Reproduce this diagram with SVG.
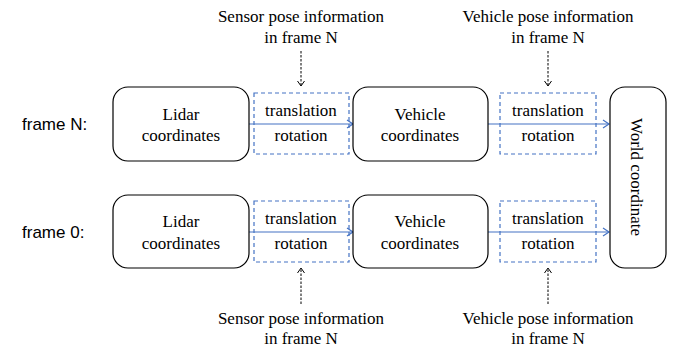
<svg xmlns="http://www.w3.org/2000/svg" width="675" height="347" viewBox="0 0 675 347">
<style>
.node{fill:#fff;stroke:#000;stroke-width:1.2}
.tf{fill:none;stroke:#4472c4;stroke-width:1.2;stroke-dasharray:4 3}
.t{font-family:'Liberation Serif','Times New Roman','DejaVu Serif',serif;font-size:17px;fill:#000;text-anchor:middle}
.lab{font-family:'Liberation Sans',Arial,sans-serif;font-size:17px;fill:#000}
.flow{stroke:#4472c4;stroke-width:1.2;fill:none;marker-end:url(#ab)}
.info{stroke:#000;stroke-width:1;stroke-dasharray:2.5 1.5;fill:none;marker-end:url(#ak)}
</style>
<defs>
<marker id="ab" markerWidth="10" markerHeight="10" refX="8" refY="5" orient="auto" markerUnits="userSpaceOnUse"><path d="M2,1 L8,5 L2,9" fill="none" stroke="#4472c4" stroke-width="1.2"/></marker>
<marker id="ak" markerWidth="10" markerHeight="10" refX="8" refY="5" orient="auto" markerUnits="userSpaceOnUse"><path d="M3,1.5 L8,5 L3,8.5" fill="none" stroke="#000" stroke-width="1"/></marker>
</defs>
<text class="lab" x="22" y="130">frame N:</text>
<text class="lab" x="22" y="238">frame 0:</text>
<g id="connectors">
<line class="flow" x1="249" y1="124" x2="353" y2="124"/>
<line class="flow" x1="488" y1="124" x2="609" y2="124"/>
<line class="flow" x1="249" y1="232" x2="353" y2="232"/>
<line class="flow" x1="488" y1="232" x2="609" y2="232"/>
<line class="info" x1="301" y1="51" x2="301" y2="86"/>
<line class="info" x1="548" y1="51" x2="548" y2="86"/>
<line class="info" x1="301" y1="304" x2="301" y2="268"/>
<line class="info" x1="548" y1="304" x2="548" y2="268"/>
</g>
<g font-family="Liberation Serif, serif">
<g id="lidarN"><rect class="node" x="113" y="87" width="136" height="74" rx="15"/><text class="t" x="181" y="120">Lidar</text><text class="t" x="181" y="141">coordinates</text></g>
<g id="tfN1"><rect class="tf" x="254" y="93" width="95" height="61"/><text class="t" x="301" y="116">translation</text><text class="t" x="301" y="141">rotation</text></g>
<g id="vehN"><rect class="node" x="353" y="87" width="135" height="74" rx="15"/><text class="t" x="420" y="120">Vehicle</text><text class="t" x="420" y="141">coordinates</text></g>
<g id="tfN2"><rect class="tf" x="500" y="93" width="96" height="61"/><text class="t" x="548" y="116">translation</text><text class="t" x="548" y="141">rotation</text></g>
<g id="lidar0"><rect class="node" x="113" y="195" width="136" height="73" rx="15"/><text class="t" x="181" y="227">Lidar</text><text class="t" x="181" y="249">coordinates</text></g>
<g id="tf01"><rect class="tf" x="254" y="201" width="95" height="61"/><text class="t" x="301" y="224">translation</text><text class="t" x="301" y="249">rotation</text></g>
<g id="veh0"><rect class="node" x="353" y="195" width="135" height="73" rx="15"/><text class="t" x="420" y="227">Vehicle</text><text class="t" x="420" y="249">coordinates</text></g>
<g id="tf02"><rect class="tf" x="500" y="201" width="96" height="61"/><text class="t" x="548" y="224">translation</text><text class="t" x="548" y="249">rotation</text></g>
<g id="world"><rect class="node" x="610" y="87" width="56" height="181" rx="15"/><text class="t" transform="translate(631,177) rotate(90)" x="0" y="0">World coordinate</text></g>
<g id="infoTop1"><text class="t" x="301" y="22">Sensor pose information</text><text class="t" x="301" y="43">in frame N</text></g>
<g id="infoTop2"><text class="t" x="548" y="22">Vehicle pose information</text><text class="t" x="548" y="43">in frame N</text></g>
<g id="infoBot1"><text class="t" x="301" y="324">Sensor pose information</text><text class="t" x="301" y="344">in frame N</text></g>
<g id="infoBot2"><text class="t" x="548" y="324">Vehicle pose information</text><text class="t" x="548" y="344">in frame N</text></g>
</g>
</svg>
